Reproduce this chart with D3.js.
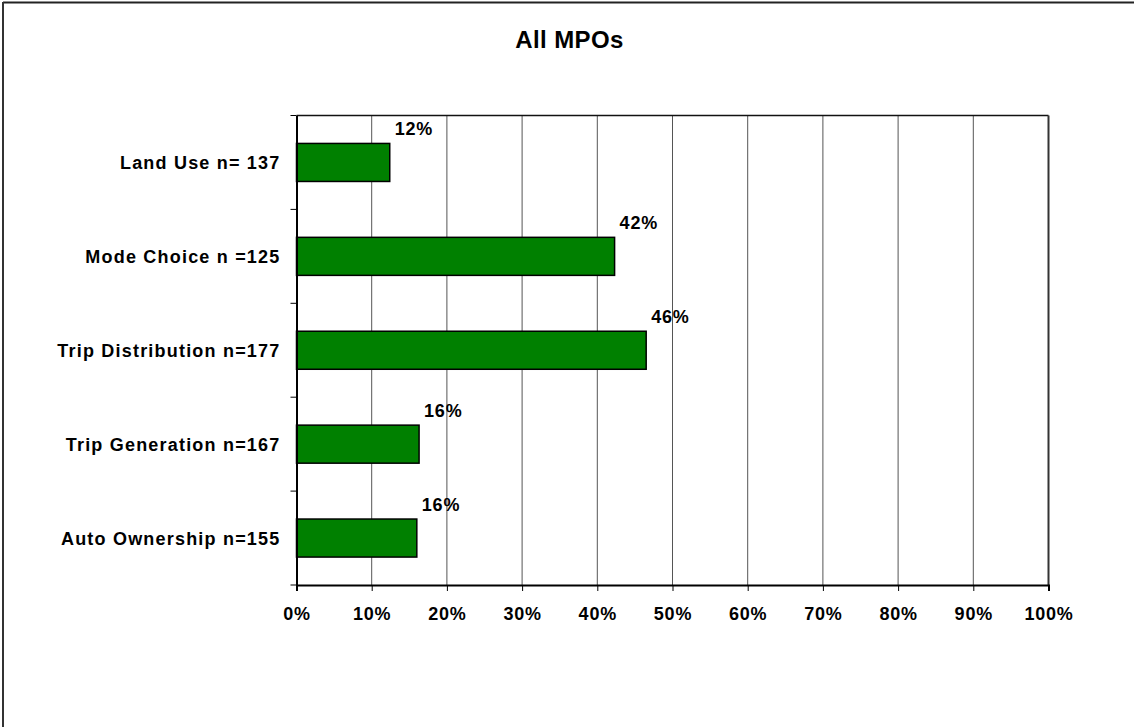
<!DOCTYPE html>
<html>
<head>
<meta charset="utf-8">
<script src="https://cdn.jsdelivr.net/npm/d3@7"></script>
<style>
  html, body { margin: 0; padding: 0; background: #fff; }
  svg text { font-family: Arial, "Liberation Sans", sans-serif; font-weight: bold; fill: #000; }
</style>
</head>
<body>
<svg id="chart" width="1134" height="727"></svg>
<script>
const title = "All MPOs";
const categories = ["Land Use n= 137", "Mode Choice n =125", "Trip Distribution n=177", "Trip Generation n=167", "Auto Ownership n=155"];
const values = [0.124, 0.423, 0.465, 0.163, 0.160];
const valueLabels = ["12%", "42%", "46%", "16%", "16%"];
const xTicks = [0, 0.1, 0.2, 0.3, 0.4, 0.5, 0.6, 0.7, 0.8, 0.9, 1.0];

const svg = d3.select("#chart");
const plot = { left: 296.5, right: 1048.5, top: 115.5, bottom: 585 };

// outer chart border (top & left visible)
svg.append("line").attr("x1", 3).attr("x2", 1134).attr("y1", 2.5).attr("y2", 2.5)
  .attr("stroke", "#222").attr("stroke-width", 2);
svg.append("line").attr("x1", 3).attr("x2", 3).attr("y1", 2).attr("y2", 727)
  .attr("stroke", "#333").attr("stroke-width", 2);

// title
svg.append("text").attr("x", 569.5).attr("y", 48).attr("text-anchor", "middle")
  .style("font-size", "24px").style("letter-spacing", "0.4px").text(title);

const x = d3.scaleLinear().domain([0, 1]).range([plot.left, plot.right]);
const y = d3.scaleBand().domain(categories).range([plot.top, plot.bottom])
  .paddingInner(0.595).paddingOuter(0.2975);
const step = y.step();

// gridlines
svg.append("g").selectAll("line").data(xTicks.slice(1, -1)).join("line")
  .attr("x1", d => x(d)).attr("x2", d => x(d))
  .attr("y1", plot.top).attr("y2", plot.bottom)
  .attr("stroke", "#555").attr("stroke-width", 1);

// plot border top & right
svg.append("line").attr("x1", plot.left).attr("x2", plot.right).attr("y1", plot.top).attr("y2", plot.top)
  .attr("stroke", "#111").attr("stroke-width", 1.5);
svg.append("line").attr("x1", plot.right).attr("x2", plot.right).attr("y1", plot.top).attr("y2", plot.bottom)
  .attr("stroke", "#333").attr("stroke-width", 2);

// bars
svg.append("g").selectAll("rect").data(categories).join("rect")
  .attr("x", x(0)).attr("y", d => y(d))
  .attr("width", (d, i) => x(values[i]) - x(0))
  .attr("height", y.bandwidth())
  .attr("fill", "#008000").attr("stroke", "#000").attr("stroke-width", 1.5);

// value labels
svg.append("g").selectAll("text").data(categories).join("text")
  .attr("x", (d, i) => x(values[i]) + 5)
  .attr("y", d => y(d) - 8)
  .style("font-size", "18px").style("letter-spacing", "0.8px")
  .text((d, i) => valueLabels[i]);

// x axis
const xAxis = d3.axisBottom(x).tickValues(xTicks).tickFormat(d3.format(".0%"))
  .tickSize(6).tickPadding(16);
const gx = svg.append("g").attr("transform", `translate(0,${plot.bottom})`).call(xAxis);
gx.select(".domain").attr("stroke", "#000").attr("stroke-width", 2);
gx.selectAll(".tick line").attr("stroke", "#000").attr("stroke-width", 1);
gx.selectAll(".tick text").style("font-size", "18px").style("letter-spacing", "0.8px")
  .attr("font-family", null).attr("fill", "#000");

// y axis
const yAxis = d3.axisLeft(y).tickSize(0).tickPadding(16);
const gy = svg.append("g").attr("transform", `translate(${plot.left},0)`).call(yAxis);
gy.select(".domain").attr("stroke", "#000").attr("stroke-width", 2);
gy.selectAll(".tick text").style("font-size", "18px").style("letter-spacing", "1.2px")
  .attr("dy", "0.37em").attr("font-family", null).attr("fill", "#000");

// y tick marks at category boundaries
const bounds = categories.map(c => y(c) - y.step() * y.paddingInner() / 2);
bounds.push(plot.bottom);
bounds[0] = plot.top;
svg.append("g").selectAll("line").data(bounds).join("line")
  .attr("x1", plot.left - 6).attr("x2", plot.left)
  .attr("y1", d => d).attr("y2", d => d)
  .attr("stroke", "#000").attr("stroke-width", 1);
</script>
</body>
</html>
